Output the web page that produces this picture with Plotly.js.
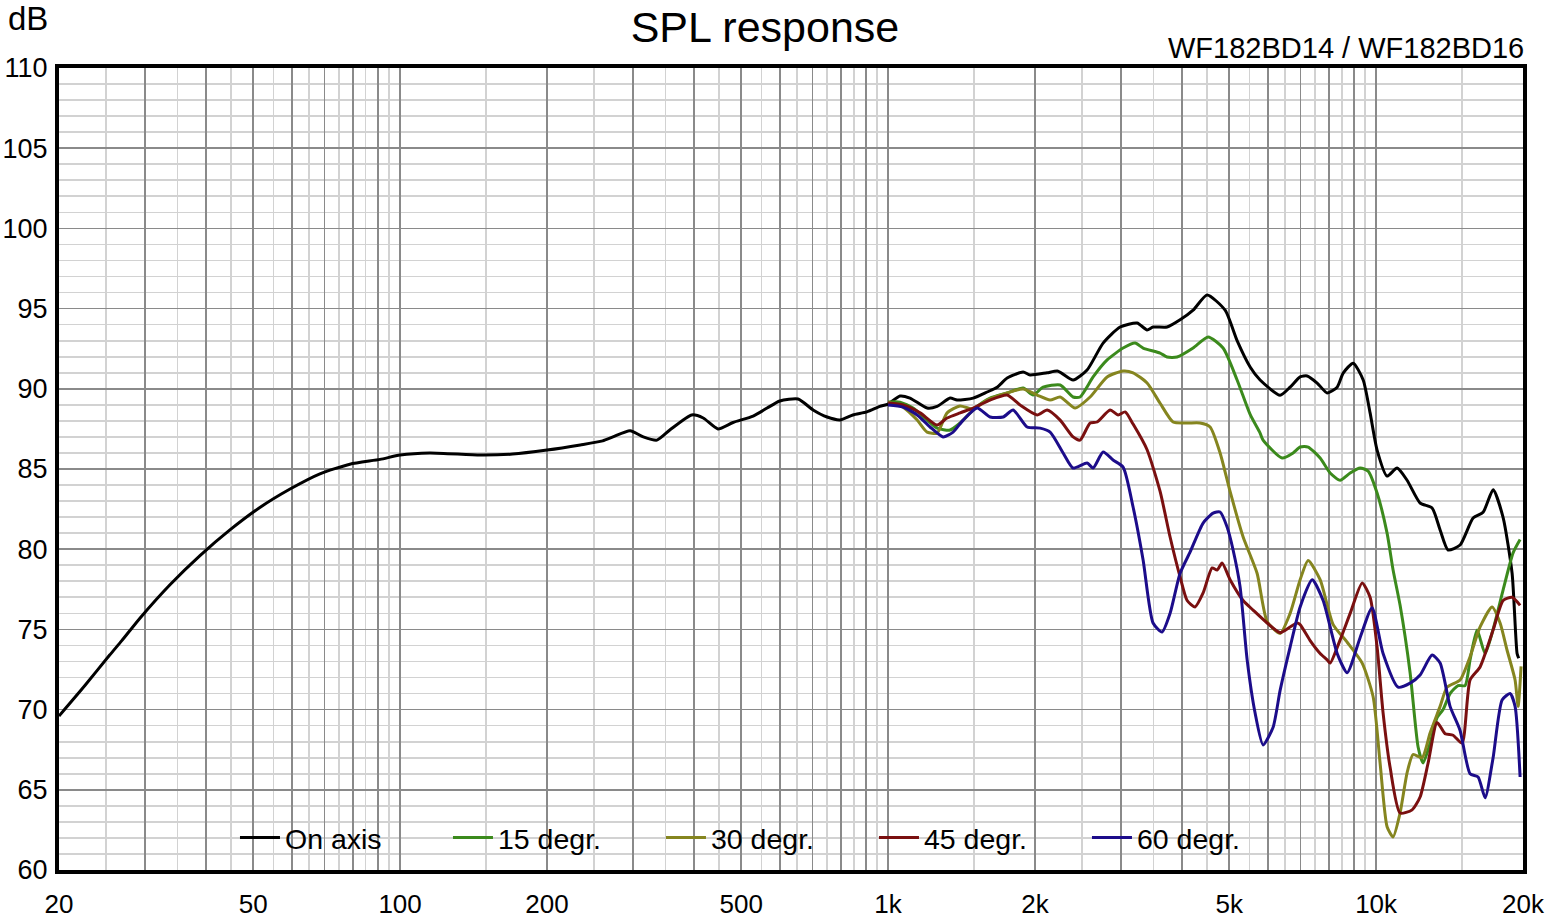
<!DOCTYPE html>
<html>
<head>
<meta charset="utf-8">
<script src="https://cdn.plot.ly/plotly-3.0.1.min.js"></script>
<style>
html,body{margin:0;padding:0;background:#fff;}
#chart{width:1546px;height:920px;}
</style>
</head>
<body>
<div id="chart"></div>
<script>
// ---------- data ----------
const seriesNames = ['On axis', '15 degr.', '30 degr.', '45 degr.', '60 degr.'];

const onAxisFreq = [20,22.6,25.4,26.9,29.3,33.8,38.9,44.8,51.6,59.5,68.5,78.9,91,100,115,146,170,200,234,260,273,296,315,336,357,396,418,448,481,529,565,600,654,702,750,797,847,905,962,1000,1058,1109,1202,1260,1340,1385,1494,1596,1673,1754,1891,1954,2118,2230,2394,2557,2758,2988,3238,3394,3491,3730,3966,4217,4505,4905,5190,5519,5785,6358,6665,6988,7222,7572,7938,8322,8561,8975,9409,9721,10047,10532,11041,11574,12307,13024,13526,14044,14862,15804,16568,17368,18200,18997,19449,19600];
const onAxisDb   = [69.6,71.5,73.4,74.3,75.7,77.8,79.6,81.2,82.6,83.75,84.7,85.3,85.6,85.87,86.0,85.87,85.93,86.18,86.5,86.75,87.0,87.39,87.0,86.8,87.43,88.37,88.18,87.5,87.9,88.3,88.8,89.24,89.36,88.68,88.24,88.06,88.37,88.56,88.9,89.05,89.55,89.42,88.8,88.9,89.42,89.3,89.42,89.8,90.1,90.67,91.05,90.86,91.0,91.1,90.55,91.17,92.85,93.85,94.1,93.67,93.85,93.85,94.3,94.9,95.85,94.9,93.0,91.36,90.55,89.6,90.1,90.74,90.8,90.36,89.74,90.1,90.98,91.6,90.55,88.5,86.18,84.56,85.06,84.3,82.88,82.57,81.2,79.95,80.26,81.94,82.3,83.7,82.0,78.5,73.5,73.2];

const deg15Freq = [1000,1058,1125,1202,1260,1340,1405,1508,1618,1754,1891,1982,2078,2252,2394,2474,2631,2811,3031,3208,3331,3609,3730,3910,4217,4526,4858,5190,5519,5785,5867,6418,6760,6988,7257,7679,8050,8440,8848,9276,9630,10047,10532,10835,11199,11740,12192,12482,12902,13335,13718,14177,14723,15218,15580,16105,16725,17368,18210,19085,19728];
const deg15Db   = [89.17,89.17,88.8,88.05,87.55,87.43,87.87,88.8,89.42,89.74,90.05,89.61,90.1,90.24,89.49,89.49,90.74,91.8,92.54,92.85,92.54,92.23,91.98,91.98,92.54,93.23,92.54,90.55,88.4,87.24,86.8,85.68,86.0,86.37,86.37,85.68,84.75,84.3,84.75,85.06,84.87,83.5,81.0,78.7,76.5,72.3,67.67,66.67,67.9,69.5,70.0,71.0,71.5,71.5,73.1,74.96,73.5,75.0,77.46,79.77,80.6];

const deg30Freq = [1000,1073,1147,1202,1260,1321,1405,1494,1596,1754,1891,2020,2148,2252,2417,2594,2811,3031,3177,3394,3609,3837,4100,4358,4569,4790,5021,5340,5703,5979,6358,6665,6988,7257,7679,8166,8724,9364,9861,10190,10532,10835,11199,11574,11907,12424,12902,13526,13979,14862,15580,16334,17285,17952,18553,19266,19543,19820];
const deg30Db   = [89.17,88.86,88.05,87.3,87.24,88.5,88.93,88.74,89.3,89.74,89.99,89.61,89.3,89.49,88.8,89.49,90.74,91.11,91.0,90.36,89.1,87.93,87.87,87.87,87.62,86.0,83.6,80.76,78.5,75.5,74.75,76.0,78.1,79.3,78.1,75.3,74.2,72.9,70.8,66.67,62.7,62.06,63.56,66.06,67.2,67.0,68.54,70.2,71.4,71.85,73.3,75.15,76.4,75.4,73.7,71.85,70.2,72.7];

const deg45Freq = [1000,1073,1163,1260,1321,1405,1494,1618,1754,1864,2020,2118,2252,2394,2474,2594,2681,2850,2960,3060,3177,3394,3609,3783,3966,4100,4257,4421,4613,4723,4835,5021,5340,5598,5979,6358,6665,6889,6988,7326,7679,7938,8050,8440,8848,9364,9721,10047,10335,10683,11199,11852,12307,12781,13335,13848,14380,15003,15580,16334,17368,18210,18997,19728];
const deg45Db   = [89.11,88.99,88.5,87.74,88.18,88.5,88.8,89.3,89.61,88.99,88.37,88.68,88.05,87.0,86.8,87.87,87.93,88.68,88.37,88.56,87.8,86.2,83.6,80.76,78.27,76.8,76.4,77.27,78.83,78.7,79.14,78.1,76.8,76.2,75.4,74.8,75.15,75.4,75.3,74.3,73.5,73.1,72.9,74.35,76.0,77.9,77.0,73.9,69.8,66.4,63.55,63.75,64.55,66.67,69.2,68.5,68.4,67.9,71.85,72.66,74.96,76.8,77.0,76.5];

const deg60Freq = [1000,1073,1147,1219,1296,1359,1425,1522,1618,1721,1804,1927,2049,2148,2284,2394,2557,2631,2758,2891,3031,3177,3331,3491,3643,3783,3966,4159,4421,4635,4790,4951,5093,5264,5442,5649,5867,6151,6358,6665,6988,7396,7789,8322,8724,9276,9813,10335,11094,11740,12307,13024,13526,14177,14862,15580,16181,16725,17368,18122,18818,19266,19728];
const deg60Db   = [88.99,88.86,88.37,87.62,87.0,87.3,88.05,88.8,88.24,88.24,88.68,87.62,87.55,87.3,86.0,85.06,85.37,85.06,86.06,85.56,85.12,82.63,79.33,75.4,74.84,76.0,78.5,79.83,81.63,82.25,82.32,81.38,79.95,77.65,73.1,69.8,67.8,68.9,71.2,73.9,76.4,78.1,76.8,73.5,72.3,74.5,76.35,73.5,71.4,71.65,72.16,73.4,72.9,70.2,68.7,66.0,65.8,64.5,67.0,70.6,71.0,70.2,65.8];

// ---------- axis ticks ----------
const xMajorTicks = [20,30,40,50,60,70,80,90,100,200,300,400,500,600,700,800,900,1000,2000,3000,4000,5000,6000,7000,8000,9000,10000,20000];
const xTickLabels = ['20','','','50','','','','','100','200','','','500','','','','','1k','2k','','','5k','','','','','10k','20k'];
const xMinorTicks = [25,35,45,55,65,75,85,95,150,250,350,450,550,650,750,850,950,1500,2500,3500,4500,5500,6500,7500,8500,9500,15000];

const seriesFreq = [onAxisFreq, deg15Freq, deg30Freq, deg45Freq, deg60Freq];
const seriesDb = [onAxisDb, deg15Db, deg30Db, deg45Db, deg60Db];
const seriesColors = ['#000000', '#3b8a1c', '#85851f', '#7a1010', '#1c0c8a'];

const FONT = 'Liberation Sans, Arial, Helvetica, sans-serif';

const traces = seriesNames.map((name, i) => ({
  type: 'scatter',
  mode: 'lines',
  name: name,
  x: seriesFreq[i],
  y: seriesDb[i],
  line: {color: seriesColors[i], width: 3, shape: 'spline', smoothing: 0.6},
  hoverinfo: 'skip'
}));

const layout = {
  width: 1546,
  height: 920,
  margin: {l: 59, r: 23, t: 68, b: 50, pad: 0},
  paper_bgcolor: '#ffffff',
  plot_bgcolor: '#ffffff',
  font: {family: FONT, color: '#000', size: 26},
  title: {
    text: 'SPL response',
    font: {family: FONT, size: 43, color: '#000'},
    xref: 'container', x: 0.4948, xanchor: 'center',
    yref: 'container', y: 0.971, yanchor: 'middle'
  },
  xaxis: {
    type: 'log',
    range: [Math.log10(20), Math.log10(20000)],
    tickmode: 'array',
    tickvals: xMajorTicks,
    ticktext: xTickLabels,
    ticks: '',
    ticklabelstandoff: 8,
    tickfont: {family: FONT, size: 26, color: '#000'},
    showgrid: true,
    gridcolor: '#8a8a8a',
    gridwidth: 1.7,
    minor: {tickmode: 'array', tickvals: xMinorTicks, showgrid: true, gridcolor: '#d2d2d2', gridwidth: 1.7, ticks: ''},
    showline: true, linecolor: '#000', linewidth: 4, mirror: true,
    zeroline: false, fixedrange: true
  },
  yaxis: {
    range: [60, 110],
    tick0: 60,
    dtick: 5,
    ticks: '',
    ticklabelstandoff: 2,
    tickfont: {family: FONT, size: 27, color: '#000'},
    showgrid: true,
    gridcolor: '#8a8a8a',
    gridwidth: 1.7,
    minor: {tick0: 60, dtick: 1, showgrid: true, gridcolor: '#d2d2d2', gridwidth: 1.7, ticks: ''},
    showline: true, linecolor: '#000', linewidth: 4, mirror: true,
    zeroline: false, fixedrange: true
  },
  showlegend: true,
  legend: {
    orientation: 'h',
    xref: 'paper', yref: 'paper',
    x: 0.1202, xanchor: 'left',
    y: 0.04, yanchor: 'middle',
    bgcolor: 'rgba(0,0,0,0)',
    borderwidth: 0,
    font: {family: FONT, size: 28.5, color: '#000'},
    entrywidth: 158,
    entrywidthmode: 'pixels',
    itemwidth: 40,
    traceorder: 'normal'
  },
  shapes: [{
    type: 'rect', xref: 'paper', yref: 'paper', layer: 'below',
    x0: 0.1066, x1: 0.8217, y0: 0, y1: 0.0873,
    fillcolor: 'rgba(255,255,255,0.72)', line: {width: 0}
  }],
  annotations: [
    {text: 'dB', xref: 'paper', yref: 'paper', x: -0.0212, y: 1.0623, xanchor: 'center', yanchor: 'middle', showarrow: false, font: {family: FONT, size: 33, color: '#000'}},
    {text: 'WF182BD14 / WF182BD16', xref: 'paper', yref: 'paper', x: 1.002, y: 1.0249, xanchor: 'right', yanchor: 'middle', showarrow: false, font: {family: FONT, size: 29, color: '#000'}}
  ]
};

Plotly.newPlot('chart', traces, layout, {displayModeBar: false, staticPlot: true});
</script>
</body>
</html>
